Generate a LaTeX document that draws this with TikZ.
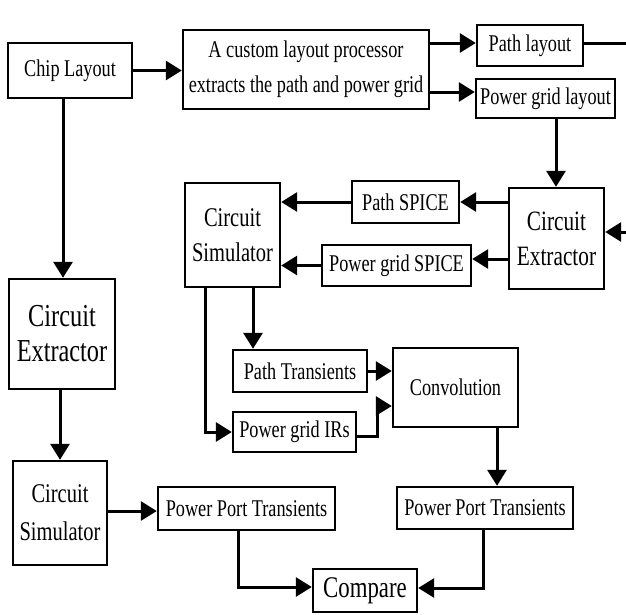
\documentclass[tikz,border=0pt]{standalone}
\usepackage{fontspec}
\setmainfont{Liberation Serif}[FakeStretch=0.76]
\usetikzlibrary{arrows.meta}
\begin{document}
\begin{tikzpicture}[x=1pt,y=-1pt,
  box/.style={draw,line width=2.4pt,inner sep=0pt,align=center,font=\fontsize{24}{35}\selectfont},
  conn/.style={line width=3pt,-{Triangle[length=16pt,width=19pt]}},
  plain/.style={line width=3pt}]
\useasboundingbox (0,0) rectangle (626,614);
% nodes
\node[box,minimum width=124pt,minimum height=55pt] (chip) at (70,70.5) {Chip Layout};
\node[box,minimum width=246pt,minimum height=79pt] (proc) at (306,69.5) {A custom layout processor\\extracts the path and power grid};
\node[box,minimum width=106pt,minimum height=41pt] (pathlay) at (530,45.5) {Path layout};
\node[box,minimum width=139pt,minimum height=39pt] (pglay) at (545.5,98.5) {Power grid layout};
\node[box,minimum width=95pt,minimum height=101pt,font=\fontsize{28}{35}\selectfont] (CEr) at (556.5,238.5) {Circuit\\Extractor};
\node[box,minimum width=107pt,minimum height=42pt] (pspice) at (405.5,202) {Path SPICE};
\node[box,minimum width=149pt,minimum height=41pt] (pgspice) at (396.5,265.5) {Power grid SPICE};
\node[box,minimum width=95pt,minimum height=104pt,font=\fontsize{27}{35}\selectfont] (simtop) at (232.5,235) {Circuit\\Simulator};
\node[box,minimum width=134pt,minimum height=42pt] (ptrans) at (300,371) {Path Transients};
\node[box,minimum width=123pt,minimum height=40pt] (pgirs) at (294.5,432) {Power grid IRs};
\node[box,minimum width=125pt,minimum height=79pt] (conv) at (455.5,387.5) {Convolution};
\node[box,minimum width=106pt,minimum height=110pt,font=\fontsize{32}{35}\selectfont] (cel) at (62,334) {Circuit\\Extractor};
\node[box,minimum width=94pt,minimum height=104pt,font=\fontsize{27}{38}\selectfont] (simbot) at (60,513) {Circuit\\Simulator};
\node[box,minimum width=177pt,minimum height=43pt] (ppt1) at (246.5,508.5) {Power Port Transients};
\node[box,minimum width=176pt,minimum height=42pt] (ppt2) at (485,508) {Power Port Transients};
\node[box,minimum width=104pt,minimum height=43pt,font=\fontsize{30}{35}\selectfont] (cmp) at (365,590.5) {Compare};
% helper coordinates
\coordinate (L43) at (0,43);
\coordinate (L92) at (0,92);
\coordinate (L259) at (0,259);
\coordinate (L436) at (0,436);
\coordinate (L406) at (0,406);
\coordinate (L511) at (0,511);
\coordinate (L587) at (0,587);
\coordinate (L588) at (0,588);
\coordinate (X253) at (253,0);
\coordinate (X205) at (205,0);
\coordinate (X377) at (377,0);
\coordinate (X63) at (63,0);
\coordinate (X497) at (497,0);
\coordinate (X238) at (238,0);
\coordinate (X483) at (483,0);
\coordinate (X556) at (556,0);
\coordinate (pathout) at (626,43);
\coordinate (cein) at (626,232);
% connectors
\draw[conn] (chip.east) -- (chip.east -| proc.west);
\draw[conn] (proc.east |- L43) -- (pathlay.west |- L43);
\draw[conn] (proc.east |- L92) -- (pglay.west |- L92);
\draw[plain] (pathlay.east |- pathout) -- (pathout);
\draw[conn] (pglay.south -| X556) -- (CEr.north -| X556);
\draw[conn] (cein) -- (cein -| CEr.east);
\draw[conn] (CEr.west |- pspice.east) -- (pspice.east);
\draw[conn] (CEr.west |- L259) -- (pgspice.east |- L259);
\draw[conn] (pspice.west) -- (pspice.west -| simtop.east);
\draw[conn] (pgspice.west) -- (pgspice.west -| simtop.east);
\draw[conn] (simtop.south -| X253) -- (ptrans.north -| X253);
\draw[conn] (simtop.south -| X205) |- (pgirs.west);
\draw[conn] (ptrans.east) -- (ptrans.east -| conv.west);
\draw[conn] (pgirs.east |- L436) -- (X377 |- L436) -- (X377 |- L406) -- (conv.west |- L406);
\draw[conn] (chip.south -| X63) -- (cel.north -| X63);
\draw[conn] (cel.south -| simbot.north) -- (simbot.north);
\draw[conn] (simbot.east |- L511) -- (ppt1.west |- L511);
\draw[conn] (conv.south -| X497) -- (ppt2.north -| X497);
\draw[conn] (ppt1.south -| X238) -- (X238 |- L587) -- (cmp.west |- L587);
\draw[conn] (ppt2.south -| X483) -- (X483 |- L588) -- (cmp.east |- L588);
\end{tikzpicture}
\end{document}
